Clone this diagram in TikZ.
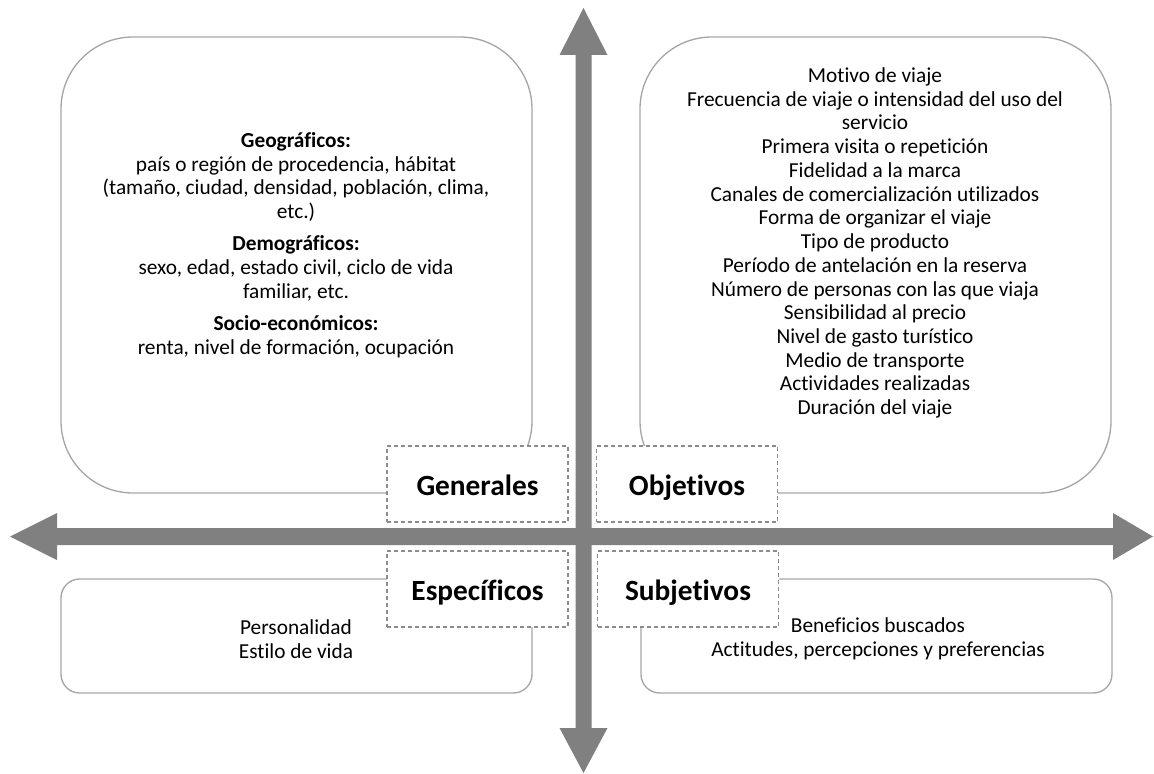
\documentclass[tikz,border=0pt]{standalone}
\usepackage{fontspec}
\setmainfont[Ligatures=NoCommon]{Carlito}
\definecolor{boxgray}{HTML}{A6A6A6}
\definecolor{dashgray}{HTML}{8C8C8C}
\definecolor{arrowgray}{HTML}{808080}
\begin{document}
\begin{tikzpicture}[x=0.75pt,y=-0.75pt,
  roundbox/.style={draw=boxgray, line width=1pt, fill=white, inner sep=0pt},
  labelbox/.style={draw=dashgray, dash pattern=on 3pt off 2.25pt, line width=0.8pt, fill=white,
    minimum width=181*0.75pt, minimum height=76*0.75pt, inner sep=0pt,
    text height=20.5pt, text depth=4pt,
    font=\fontsize{22}{26}\selectfont\bfseries},
  bodytext/.style={align=center, inner sep=0pt, font=\fontsize{16}{17.8}\selectfont},
  arrowshape/.style={fill=arrowgray}]
\useasboundingbox (0,0) rectangle (1154,774);

% rounded boxes
\node[roundbox, rounded corners=54pt, minimum width=471*0.75pt, minimum height=456*0.75pt] (tl) at (296.5,265) {};
\node[roundbox, rounded corners=54pt, minimum width=471*0.75pt, minimum height=456*0.75pt] (tr) at (875.5,265) {};
\node[roundbox, rounded corners=14pt, minimum width=471*0.75pt, minimum height=114*0.75pt] (bl) at (296.5,636) {};
\node[roundbox, rounded corners=14pt, minimum width=471*0.75pt, minimum height=114*0.75pt] (br) at (876.5,636) {};

% axes
\fill[arrowshape] (583.5,8) -- (607.5,55) -- (591.5,55) -- (591.5,728) -- (607.5,728) -- (583.5,773)
  -- (559.5,728) -- (575.5,728) -- (575.5,55) -- (559.5,55) -- cycle;
\fill[arrowshape] (10,536.5) -- (57,513) -- (57,528) -- (1113,528) -- (1113,513) -- (1153,536.5)
  -- (1113,560) -- (1113,545) -- (57,545) -- (57,560) -- cycle;

% label boxes
\node[labelbox] (gen) at (477.5,484) {Generales};
\node[labelbox] (obj) at (687,484) {Objetivos};
\node[labelbox] (esp) at (477.5,589) {Específicos};
\node[labelbox] (sub) at (688,589) {Subjetivos};

% texts
\node[bodytext] (tltext) at (296,245) {\textbf{Geográficos:}\\
país o región de procedencia, hábitat\\
(tamaño, ciudad, densidad, población, clima,\\
etc.)\\[6.4pt]
\textbf{Demográficos:}\\
sexo, edad, estado civil, ciclo de vida\\
familiar, etc.\\[6.4pt]
\textbf{Socio-económicos:}\\
renta, nivel de formación, ocupación};

\node[bodytext] (trtext) at (875,243) {Motivo de viaje\\
Frecuencia de viaje o intensidad del uso del\\
servicio\\
Primera visita o repetición\\
Fidelidad a la marca\\
Canales de comercialización utilizados\\
Forma de organizar el viaje\\
Tipo de producto\\
Período de antelación en la reserva\\
Número de personas con las que viaja\\
Sensibilidad al precio\\
Nivel de gasto turístico\\
Medio de transporte\\
Actividades realizadas\\
Duración del viaje};

\node[bodytext] (bltext) at (296,639) {Personalidad\\Estilo de vida};
\node[bodytext] (brtext) at (878,639) {Beneficios buscados\\Actitudes, percepciones y preferencias};
\end{tikzpicture}
\end{document}
